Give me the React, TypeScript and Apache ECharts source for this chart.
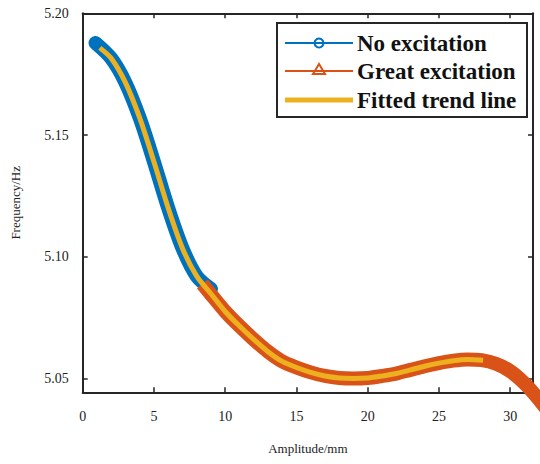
import React, { useEffect, useRef } from "react";
import * as echarts from "echarts";

// ---- data ----
const xTicks = [0, 5, 10, 15, 20, 25, 30];
const yTicks = [5.05, 5.1, 5.15, 5.2];
const xRange = [0, 31.6];
const yRange = [5.0443, 5.2];

const noExcX = [0.9, 2, 3, 4, 5, 6, 7, 8, 9];
const noExcY = [5.1878, 5.1815, 5.1715, 5.157, 5.139, 5.12, 5.1035, 5.092, 5.0868];

const greatExcX = [8.4, 9, 10, 11, 12, 13, 14, 15, 16, 17, 18, 19, 20, 21, 22, 23, 24, 25, 26, 27, 28, 29, 30, 31, 32, 32.6];
const greatExcY = [5.0888, 5.0845, 5.0775, 5.0715, 5.066, 5.061, 5.057, 5.0545, 5.0525, 5.051, 5.0502, 5.05, 5.0502, 5.051, 5.052, 5.0535, 5.055, 5.0563, 5.0573, 5.0578, 5.0575, 5.056, 5.053, 5.048, 5.0415, 5.037];

const fitX = [1.2, 2, 3, 4, 5, 6, 7, 8, 9, 10, 11, 12, 13, 14, 15, 16, 17, 18, 19, 20, 21, 22, 23, 24, 25, 26, 27, 28.1];
const fitY = [5.1858, 5.1815, 5.1715, 5.157, 5.139, 5.12, 5.1035, 5.092, 5.0848, 5.0775, 5.0715, 5.066, 5.061, 5.057, 5.0545, 5.0525, 5.051, 5.0502, 5.05, 5.0502, 5.051, 5.052, 5.0535, 5.055, 5.0563, 5.0573, 5.0578, 5.0575];

const seriesNames = ["No excitation", "Great excitation", "Fitted trend line"];
const colors = ["#0072BD", "#D95319", "#EDB120"];

const zip = (xs: number[], ys: number[]) => xs.map((x, i) => [x, ys[i]]);

const SERIF = "'Liberation Serif', 'Times New Roman', serif";
const AXIS_COLOR = "#262626";

export default function App() {
  const ref = useRef<HTMLDivElement>(null);

  useEffect(() => {
    if (!ref.current) return;
    const chart = echarts.init(ref.current, null, { renderer: "svg" });

    const axisLine = { show: true, onZero: false, lineStyle: { color: AXIS_COLOR, width: 2 } };
    const tick = (vals: number[]) => ({
      show: true,
      inside: true,
      length: 5,
      customValues: vals,
      lineStyle: { color: AXIS_COLOR, width: 1.5 },
    });
    const labelStyle = { fontFamily: SERIF, color: "#222" };

    // legend geometry
    const lx = 277, ly = 23, lw = 250, lh = 94;
    const rowY = [43, 71, 100];
    const l0 = 285, l1 = 353, mc = 319, tx = 357;

    const option: any = {
      animation: false,
      backgroundColor: "#ffffff",
      grid: { left: 82.7, right: 7, top: 13.3, bottom: 71.7, containLabel: false },
      xAxis: [
        {
          type: "value",
          min: xRange[0],
          max: xRange[1],
          position: "bottom",
          axisLine,
          axisTick: tick(xTicks),
          axisLabel: { ...labelStyle, fontSize: 14, margin: 17, customValues: xTicks },
          splitLine: { show: false },
          name: "Amplitude/mm",
          nameLocation: "middle",
          nameGap: 50,
          nameTextStyle: { ...labelStyle, fontSize: 13 },
        },
        {
          type: "value",
          min: xRange[0],
          max: xRange[1],
          position: "top",
          axisLine,
          axisTick: tick(xTicks),
          axisLabel: { show: false },
          splitLine: { show: false },
        },
      ],
      yAxis: [
        {
          type: "value",
          min: yRange[0],
          max: yRange[1],
          position: "left",
          axisLine,
          axisTick: tick(yTicks),
          axisLabel: {
            ...labelStyle,
            fontSize: 14,
            margin: 14,
            customValues: yTicks,
            formatter: (v: number) => v.toFixed(2),
          },
          splitLine: { show: false },
          name: "Frequency/Hz",
          nameLocation: "middle",
          nameGap: 61,
          nameTextStyle: { ...labelStyle, fontSize: 13 },
        },
        {
          type: "value",
          min: yRange[0],
          max: yRange[1],
          position: "right",
          axisLine,
          axisTick: tick(yTicks),
          axisLabel: { show: false },
          splitLine: { show: false },
        },
      ],
      series: [
        {
          name: seriesNames[0],
          type: "line",
          data: zip(noExcX, noExcY),
          smooth: 0.3,
          symbol: "none",
          lineStyle: { color: colors[0], width: 14, cap: "round", join: "round" },
          z: 2,
        },
        {
          name: seriesNames[1],
          type: "line",
          data: zip(greatExcX, greatExcY),
          smooth: 0.3,
          symbol: "none",
          clip: false,
          lineStyle: { color: colors[1], width: 14, cap: "butt", join: "round" },
          z: 3,
        },
        {
          name: seriesNames[2],
          type: "line",
          data: zip(fitX, fitY),
          smooth: 0.3,
          symbol: "none",
          lineStyle: { color: colors[2], width: 5, cap: "butt", join: "round" },
          z: 4,
        },
      ],
      graphic: [
        {
          type: "group",
          z: 100,
          children: [
            {
              type: "rect",
              shape: { x: lx, y: ly, width: lw, height: lh },
              style: { fill: "#ffffff", stroke: AXIS_COLOR, lineWidth: 2 },
            },
            {
              type: "line",
              shape: { x1: l0, y1: rowY[0], x2: l1, y2: rowY[0] },
              style: { stroke: colors[0], lineWidth: 2 },
            },
            {
              type: "circle",
              shape: { cx: mc, cy: rowY[0], r: 4.5 },
              style: { fill: "none", stroke: colors[0], lineWidth: 2 },
            },
            {
              type: "line",
              shape: { x1: l0, y1: rowY[1], x2: l1, y2: rowY[1] },
              style: { stroke: colors[1], lineWidth: 2 },
            },
            {
              type: "polygon",
              shape: { points: [[mc, rowY[1] - 7], [mc - 6, rowY[1] + 3], [mc + 6, rowY[1] + 3]] },
              style: { fill: "none", stroke: colors[1], lineWidth: 2 },
            },
            {
              type: "line",
              shape: { x1: l0, y1: rowY[2], x2: l1, y2: rowY[2] },
              style: { stroke: colors[2], lineWidth: 5 },
            },
            ...seriesNames.map((n, i) => ({
              type: "text",
              x: tx,
              y: rowY[i],
              style: {
                text: n,
                font: `bold 23px ${SERIF}`,
                fill: "#111",
                verticalAlign: "middle",
                align: "left",
              },
            })),
          ],
        },
      ],
    };

    chart.setOption(option);
    return () => chart.dispose();
  }, []);

  return (
    <div
      ref={ref}
      style={{ position: "fixed", left: 0, top: 0, width: 540, height: 464, background: "#fff" }}
    />
  );
}
